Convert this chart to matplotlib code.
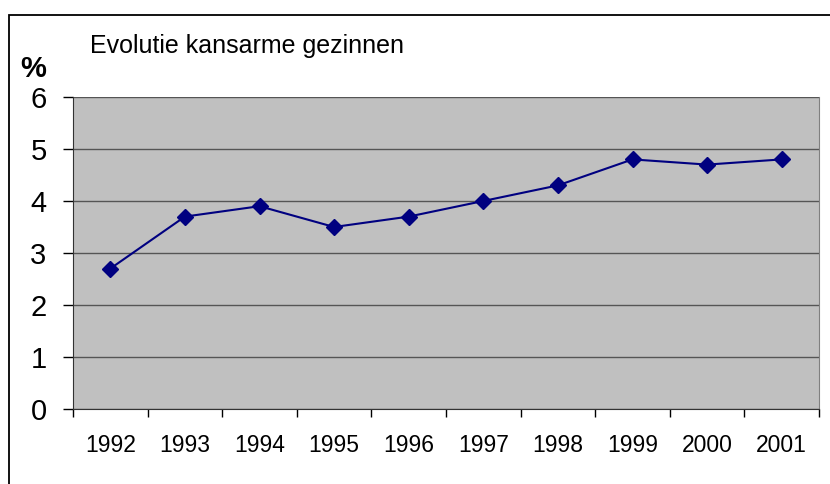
import matplotlib
matplotlib.use("Agg")
import matplotlib.pyplot as plt
from matplotlib.patches import Rectangle

years = ['1992', '1993', '1994', '1995', '1996', '1997', '1998', '1999', '2000', '2001']
pct = [2.7, 3.7, 3.9, 3.5, 3.7, 4.0, 4.3, 4.8, 4.7, 4.8]
title = 'Evolutie kansarme gezinnen'

plt.rcParams['font.family'] = ['Liberation Sans', 'DejaVu Sans']

fig = plt.figure(figsize=(8.3, 4.84), dpi=100)
# outer chart border like the excel chart frame
fig.patches.append(Rectangle((9/830, -0.05), 1.2, (484 - 15)/484 + 0.05, transform=fig.transFigure,
                             fill=False, edgecolor='black', linewidth=1.3))

ax = fig.add_axes([73/830, (484 - 409)/484, (819 - 73)/830, (409 - 97)/484])
ax.set_facecolor('#c0c0c0')

x = list(range(len(years)))
ax.plot(x, pct, color='#000080', marker='D', markersize=8, linewidth=1.5, zorder=3)

ax.set_xlim(-0.5, len(years) - 0.5)
ax.set_ylim(0, 6)
ax.set_yticks(range(0, 7))
ax.yaxis.grid(True, color='#555555', linewidth=1)
ax.set_axisbelow(True)

# ticks between categories, labels centered
ax.set_xticks([i - 0.5 for i in range(len(years) + 1)])
ax.set_xticklabels([])
ax.set_xticks(x, minor=True)
ax.set_xticklabels(years, minor=True, fontsize=16.5)
ax.tick_params(axis='x', which='minor', length=0, pad=18)
ax.tick_params(axis='x', which='major', direction='out', length=6, width=1)
ax.tick_params(axis='y', direction='out', length=7, width=1, labelsize=21, pad=12)

ax.spines['top'].set_visible(False)
ax.spines['right'].set_color('#808080')
ax.spines['left'].set_color('#333333')
ax.spines['bottom'].set_color('#333333')

fig.text(90/830, 1 - 46/484, title, fontsize=18, va='center', ha='left')
fig.text(33/830, 1 - 69/484, '%', fontsize=21, fontweight='bold', va='center', ha='center')

fig.savefig('out.png', dpi=100)
